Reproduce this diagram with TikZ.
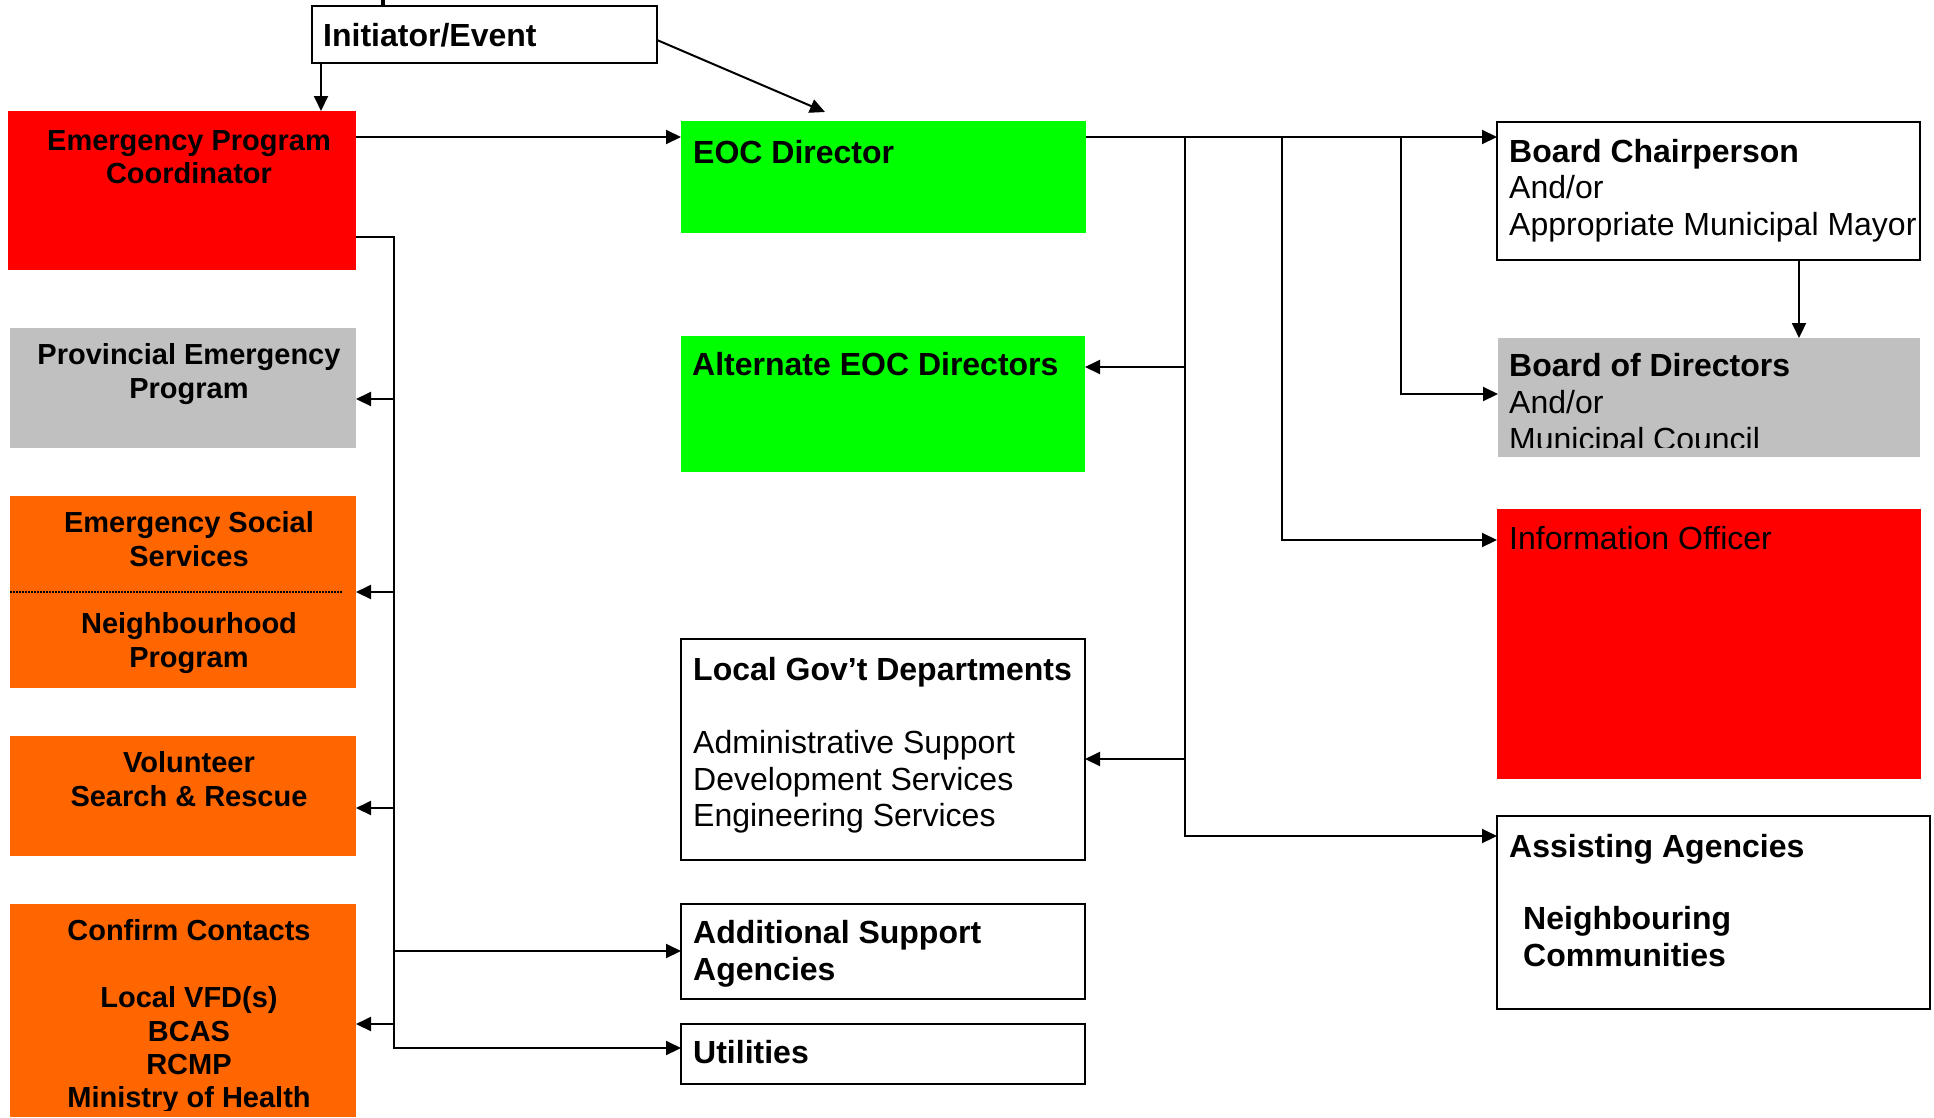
\documentclass[tikz,border=0pt]{standalone}
\usepackage{fontspec}
\setmainfont{Liberation Sans}
\usetikzlibrary{arrows.meta}

\definecolor{epred}{RGB}{255,0,0}
\definecolor{epgreen}{RGB}{0,255,0}
\definecolor{epgray}{RGB}{192,192,192}
\definecolor{eporange}{RGB}{255,102,0}

% multi-line labels are placed by the baseline of their last line
\tikzset{
  box/.style={rectangle, anchor=north west, inner sep=0pt, outer sep=0pt},
  framed/.style={box, draw=black, line width=2pt, fill=white},
  conn/.style={line width=2pt, -{Triangle[length=15pt,width=14pt]}},
  dotline/.style={line width=1.5pt, dash pattern=on 1.5pt off 1.5pt},
  lefttxt/.style={font=\fontsize{29}{33.4}\selectfont\bfseries, align=center, anchor=base, inner sep=0pt},
  headtxt/.style={font=\fontsize{32}{36.8}\selectfont\bfseries, align=left, anchor=base west, inner sep=0pt},
  bodytxt/.style={font=\fontsize{32}{36.8}\selectfont, align=left, anchor=base west, inner sep=0pt},
}

\begin{document}
\begin{tikzpicture}[x=1pt,y=-1pt]
  \fill[white] (0,0) rectangle (1934,1117);
  \useasboundingbox (0,0) rectangle (1934,1117);

  % descender of a line of text above the chart
  \fill[black] (381,0) rectangle (385,6);

  % ---- boxes ----
  \node[framed, minimum width=345pt, minimum height=57pt] (init) at (312,6) {};
  \node[box, fill=epred, minimum width=348pt, minimum height=159pt] (epc) at (8,111) {};
  \node[box, fill=epgray, minimum width=346pt, minimum height=120pt] (prov) at (10,328) {};
  \node[box, fill=eporange, minimum width=346pt, minimum height=192pt] (ess) at (10,496) {};
  \node[box, fill=eporange, minimum width=346pt, minimum height=120pt] (vol) at (10,736) {};
  \node[box, fill=eporange, minimum width=346pt, minimum height=213pt] (conf) at (10,904) {};

  \node[box, fill=epgreen, minimum width=405pt, minimum height=112pt] (eoc) at (681,121) {};
  \node[box, fill=epgreen, minimum width=404pt, minimum height=136pt] (alt) at (681,336) {};
  \node[framed, minimum width=404pt, minimum height=221pt] (lgd) at (681,639) {};
  \node[framed, minimum width=404pt, minimum height=95pt] (add) at (681,904) {};
  \node[framed, minimum width=404pt, minimum height=60pt] (util) at (681,1024) {};

  \node[framed, minimum width=423pt, minimum height=138pt] (chair) at (1497,122) {};
  \node[box, fill=epgray, minimum width=422pt, minimum height=119pt] (bod) at (1498,338) {};
  \node[box, fill=epred, minimum width=424pt, minimum height=270pt] (info) at (1497,509) {};
  \node[framed, minimum width=433pt, minimum height=193pt] (assist) at (1497,816) {};

  % ---- labels ----
  \node[headtxt] (initT) at (323,46.7) {Initiator/Event};

  \node[lefttxt] (epcT) at (189,183.4) {Emergency Program\\Coordinator};
  \node[lefttxt] (provT) at (189,398) {Provincial Emergency\\Program};
  \node[lefttxt] (essT) at (189,566) {Emergency Social\\Services};
  \node[lefttxt] (nbhT) at (189,667) {Neighbourhood\\Program};
  \node[lefttxt] (volT) at (189,806) {Volunteer\\Search \& Rescue};
  \node[lefttxt] (confT) at (189,940) {Confirm Contacts};
  \begin{scope}
    \clip (conf.north west) rectangle (356,1110);
    \node[lefttxt] (confL) at (189,1107.8) {Local VFD(s)\\BCAS\\RCMP\\Ministry of Health};
  \end{scope}

  \node[headtxt] (eocT) at (693,163.3) {EOC Director};
  \node[headtxt] (altT) at (692,375) {Alternate EOC Directors};
  \node[headtxt] (lgdT) at (693,680) {Local Gov’t Departments};
  \node[bodytxt] (lgdL) at (693,826.9) {Administrative Support\\Development Services\\Engineering Services};
  \node[headtxt] (addT) at (693,980.7) {Additional Support\\Agencies};
  \node[headtxt] (utilT) at (693,1063.3) {Utilities};

  \node[headtxt] (chairT) at (1509,162.7) {Board Chairperson};
  \node[bodytxt] (chairL) at (1509,235.5) {And/or\\Appropriate Municipal Mayor};
  \node[headtxt] (bodT) at (1509,376) {Board of Directors};
  \begin{scope}
    \clip (bod.north west) rectangle (1920,447);
    \node[bodytxt] (bodL) at (1509,450.1) {And/or\\Municipal Council};
  \end{scope}
  \node[bodytxt] (infoT) at (1509,549.3) {Information Officer};
  \node[headtxt] (assistT) at (1509,857.3) {Assisting Agencies};
  \node[headtxt] (assistL) at (1523,966.7) {Neighbouring\\Communities};

  % divider inside the social services box
  \draw[dotline] (ess.west |- 0,592) -- ([xshift=-13pt]ess.east |- 0,592);

  % ---- connectors ----
  \draw[conn] ([xshift=9pt]init.south west) -- ([xshift=9pt]init.south west |- epc.north);
  \draw[conn] ([yshift=-5.5pt]init.east) -- ([xshift=144pt,yshift=9pt]eoc.north west);
  \draw[conn] (epc.east |- 0,137) -- (eoc.west |- 0,137);

  % left trunk from the coordinator
  \coordinate (trunkBot) at (394,1048);
  \draw[conn] (epc.east |- 0,237) -| (trunkBot) -- (util.west |- trunkBot);
  \draw[conn] (trunkBot |- 0,399) -- (prov.east |- 0,399);
  \draw[conn] (trunkBot |- 0,592) -- (ess.east |- 0,592);
  \draw[conn] (trunkBot |- 0,808) -- (vol.east |- 0,808);
  \draw[conn] (trunkBot |- 0,1024) -- (conf.east |- 0,1024);
  \draw[conn] (trunkBot |- 0,951) -- (add.west |- 0,951);

  % right side buses from the EOC director
  \coordinate (busA) at (1185,836);
  \coordinate (busB) at (1282,540);
  \coordinate (busC) at (1401,394);
  \draw[conn] (eoc.east |- 0,137) -- (chair.west |- 0,137);
  \draw[conn] (busA |- 0,137) -- (busA) -- (assist.west |- busA);
  \draw[conn] (busB |- 0,137) -- (busB) -- (info.west |- busB);
  \draw[conn] (busC |- 0,137) -- (busC) -- (bod.west |- busC);
  \draw[conn] (busA |- 0,367) -- (alt.east |- 0,367);
  \draw[conn] (busA |- 0,759) -- (lgd.east |- 0,759);
  \draw[conn] (1799,0 |- chair.south) -- (1799,0 |- bod.north);
\end{tikzpicture}
\end{document}
